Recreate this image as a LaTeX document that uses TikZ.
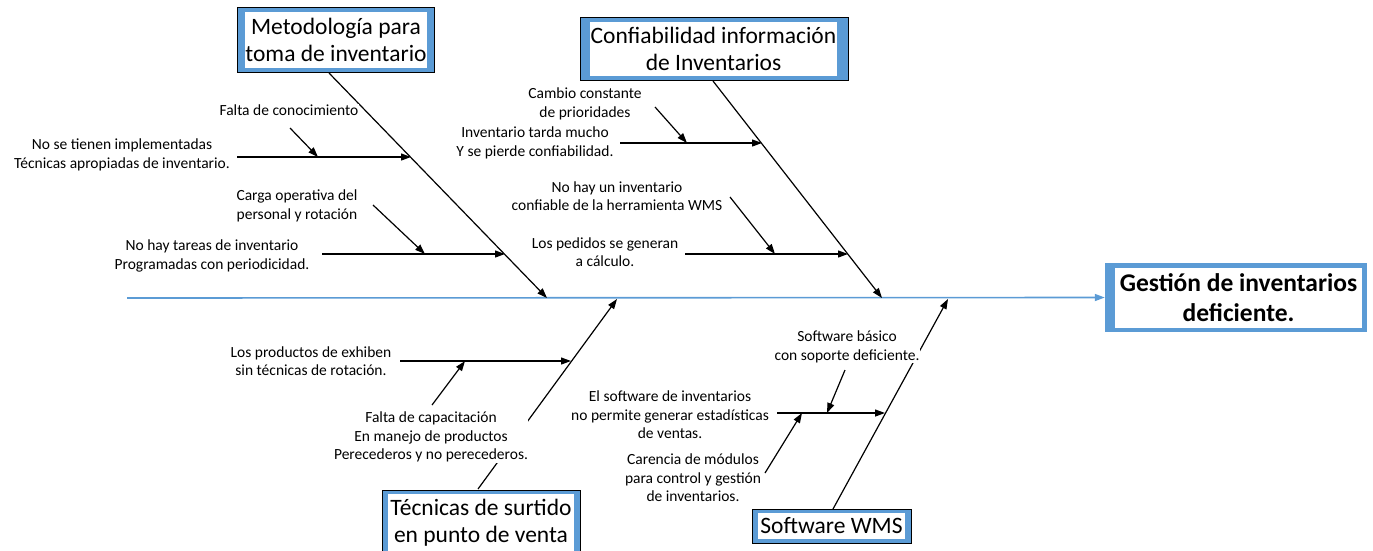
\documentclass[tikz,border=0pt]{standalone}
\usepackage{fontspec}
\setmainfont{Carlito}
\usetikzlibrary{arrows.meta,calc}
\definecolor{bblue}{RGB}{91,155,213}
\begin{document}
\begin{tikzpicture}[x=1pt,y=-1pt,
  cause/.style={fill=white,inner sep=0.5pt,align=center,font=\fontsize{15.5}{18.5}\selectfont},
  catframe/.style={draw=black,fill=bblue,line width=1pt,inner sep=0pt},
  catbox/.style={fill=white,inner sep=0pt,align=center,font=\fontsize{23.5}{27}\selectfont},
  effframe/.style={fill=bblue,inner sep=0pt},
  effbox/.style={fill=white,inner sep=0pt,align=center,font=\fontsize{25.5}{30}\bfseries\selectfont},
  tip/.style={-{Triangle[length=10pt,width=7pt]}},
  bone/.style={line width=1.2pt,black,tip},
  spine/.style={line width=1.6pt,bblue,tip}
]
\useasboundingbox (0,0) rectangle (1373,550);

% ---------- boxes ----------
\node[catframe,minimum width=197,minimum height=65] (m1o) at (335.5,39.5) {};
\node[catbox,minimum width=182,minimum height=56] (m1) at (336,40) {Metodología para\\toma de inventario};

\node[catframe,minimum width=268,minimum height=63] (m2o) at (714,48.5) {};
\node[catbox,minimum width=247,minimum height=54] (m2) at (713.5,49) {Confiabilidad información\\de Inventarios};

\node[catframe,minimum width=198,minimum height=66] (m3o) at (481,523) {};
\node[catbox,minimum width=186,minimum height=58] (m3) at (481,523) {Técnicas de surtido\\en punto de venta};

\node[catframe,minimum width=159,minimum height=34] (m4o) at (831.5,526) {};
\node[catbox,minimum width=147,minimum height=26] (m4) at (831.5,526) {Software WMS};

\node[effframe,minimum width=262,minimum height=69] (effo) at (1236,297.5) {};
\node[effbox,minimum width=247,minimum height=60] (eff) at (1238.5,298) {Gestión de inventarios\\deficiente.};

% ---------- coordinates ----------
\coordinate (S0) at (127,298);
\coordinate (B1) at (329,73);
\coordinate (J1) at (547,298);
\coordinate (B2) at (713,81);
\coordinate (J2) at (882,298);
\coordinate (B3) at (478,489);
\coordinate (J3) at (617,299);
\coordinate (B4) at (833,509);
\coordinate (J4) at (948,299);

% bone 1
\coordinate (h11s) at (237,157); \coordinate (h11e) at (411,157);
\coordinate (d11s) at (290,128); \coordinate (d11e) at (318,157);
\coordinate (h12s) at (322,254); \coordinate (h12e) at (505,254);
\coordinate (d12s) at (373,205); \coordinate (d12e) at (425,254);
% bone 2
\coordinate (h21s) at (620,143); \coordinate (h21e) at (762,143);
\coordinate (d21s) at (655,107); \coordinate (d21e) at (687,143);
\coordinate (h22s) at (685,254); \coordinate (h22e) at (848,254);
\coordinate (d22s) at (730,197); \coordinate (d22e) at (775,254);
% bone 3
\coordinate (h31s) at (400,361); \coordinate (h31e) at (571,361);
\coordinate (d31s) at (432,405); \coordinate (d31e) at (465,361);
% bone 4
\coordinate (h41s) at (777,413); \coordinate (h41e) at (885,413);
\coordinate (d41s) at (845,370); \coordinate (d41e) at (827,413);
\coordinate (d42s) at (765,473); \coordinate (d42e) at (802,413);

% ---------- spine and bones ----------
\draw[spine] (S0) -- (effo.west);
\draw[bone] (B1) -- (J1);
\draw[bone] (B2) -- (J2);
\draw[bone] (B3) -- (J3);
\draw[bone] (B4) -- (J4);

\draw[bone] (h11s) -- (h11e);
\draw[bone] (d11s) -- (d11e);
\draw[bone] (h12s) -- (h12e);
\draw[bone] (d12s) -- (d12e);
\draw[bone] (h21s) -- (h21e);
\draw[bone] (d21s) -- (d21e);
\draw[bone] (h22s) -- (h22e);
\draw[bone] (d22s) -- (d22e);
\draw[bone] (h31s) -- (h31e);
\draw[bone] (d31s) -- (d31e);
\draw[bone] (h41s) -- (h41e);
\draw[bone] (d41s) -- (d41e);
\draw[bone] (d42s) -- (d42e);

% ---------- cause texts ----------
\node[cause] (c11) at (289,110) {Falta de conocimiento};
\node[cause] (c12) at (122,155) {No se tienen implementadas\\Técnicas apropiadas de inventario.};
\node[cause] (c13) at (297,206) {Carga operativa del\\personal y rotación};
\node[cause] (c14) at (212,256) {No hay tareas de inventario\\Programadas con periodicidad.};

\node[cause] (c21) at (585,104) {Cambio constante\\de prioridades};
\node[cause] (c22) at (535,143) {Inventario tarda mucho\\Y se pierde confiabilidad.};
\node[cause] (c23) at (617,196) {No hay un inventario\\confiable de la herramienta WMS};
\node[cause] (c24) at (605,252) {Los pedidos se generan\\a cálculo.};

\node[cause] (c31) at (311,361) {Los productos de exhiben\\sin técnicas de rotación.};
\node[cause] (c32) at (431,437) {Falta de capacitación\\En manejo de productos\\Perecederos y no perecederos.};

\node[cause] (c41) at (847,347) {Software básico\\con soporte deficiente.};
\node[cause] (c42) at (670,415) {El software de inventarios\\no permite generar estadísticas\\de ventas.};
\node[cause] (c43) at (693,478) {Carencia de módulos\\para control y gestión\\de inventarios.};
\end{tikzpicture}
\end{document}
